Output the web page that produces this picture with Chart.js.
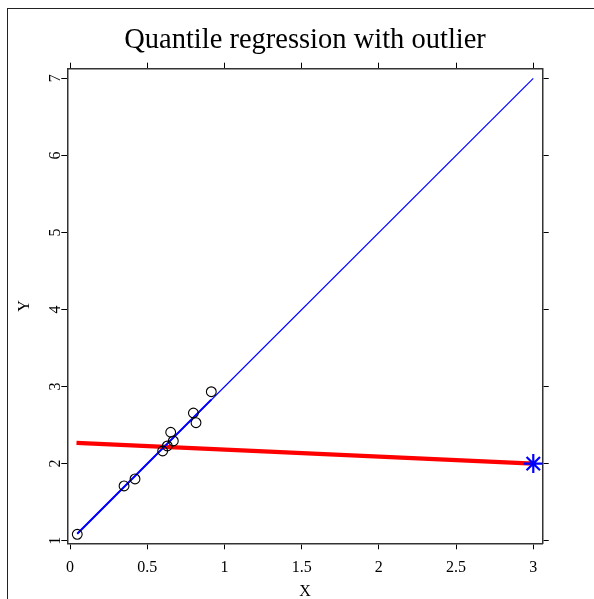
<!DOCTYPE html>
<html>
<head>
<meta charset="UTF-8">
<title>Quantile regression with outlier</title>
<script src="https://cdn.jsdelivr.net/npm/chart.js"></script>
<style>
  html, body { margin: 0; padding: 0; background: #fff; overflow: hidden; }
  #frame {
    position: absolute; left: 7px; top: 8px;
    width: 700px; height: 700px;
    border: 1.5px solid #222;
  }
  #wrap { position: absolute; left: 0; top: 0; width: 594px; height: 599px; }
</style>
</head>
<body>
<div id="frame"></div>
<div id="wrap"><canvas id="chart"></canvas></div>
<script>
// tick values and labels
const xTicks = [0, 0.5, 1, 1.5, 2, 2.5, 3];
const xTickLabels = ['0', '0.5', '1', '1.5', '2', '2.5', '3'];
const yTicks = [1, 2, 3, 4, 5, 6, 7];
const yTickLabels = ['1', '2', '3', '4', '5', '6', '7'];

// observations (circles)
const obsX = [0.047, 0.350, 0.421, 0.600, 0.630, 0.652, 0.669, 0.799, 0.816, 0.915];
const obsY = [1.083, 1.710, 1.801, 2.164, 2.229, 2.407, 2.294, 2.657, 2.531, 2.933];

// outlier (asterisk)
const outX = [3];
const outY = [2.0];

// blue fit without outlier: over data range (thick) and extended (thin)
const fitShortX = [0.047, 0.915];
const fitShortY = [1.09, 2.83];
const fitLongX = [0.047, 3];
const fitLongY = [1.09, 7.0];

// red quantile fit with outlier
const qrX = [0.042, 3];
const qrY = [2.27, 2.0];

const pts = (xs, ys) => xs.map((x, i) => ({ x: x, y: ys[i] }));

const serif = "'Liberation Serif', 'Times New Roman', serif";

const gridOpts = {
  drawOnChartArea: false,
  drawTicks: true,
  tickLength: 6,
  color: '#000',
  lineWidth: 1
};
const borderOpts = { display: true, color: '#333', width: 1.5 };

const setTicks = vals => scale => { scale.ticks = vals.map(v => ({ value: v })); };
const labelFrom = (vals, labels) => v => {
  const i = vals.indexOf(v);
  return i >= 0 ? labels[i] : '';
};

new Chart(document.getElementById('chart'), {
  type: 'scatter',
  data: {
    datasets: [
      {
        data: pts(outX, outY),
        pointStyle: 'star',
        pointRadius: 9.5,
        borderColor: '#0000ff',
        borderWidth: 2.2,
        showLine: false
      },
      {
        data: pts(obsX, obsY),
        pointStyle: 'circle',
        pointRadius: 4.9,
        borderColor: '#000',
        backgroundColor: 'rgba(0,0,0,0)',
        borderWidth: 1.1,
        showLine: false
      },
      {
        data: pts(fitShortX, fitShortY),
        showLine: true,
        borderColor: '#0000ff',
        borderWidth: 2,
        pointRadius: 0
      },
      {
        data: pts(fitLongX, fitLongY),
        showLine: true,
        borderColor: '#0000ff',
        borderWidth: 1.2,
        pointRadius: 0
      },
      {
        data: pts(qrX, qrY),
        showLine: true,
        borderColor: '#ff0000',
        borderWidth: 4.3,
        pointRadius: 0
      }
    ]
  },
  options: {
    responsive: true,
    maintainAspectRatio: false,
    animation: false,
    events: [],
    layout: { padding: { left: 16, right: 0, top: 0, bottom: 0 } },
    plugins: {
      legend: { display: false },
      tooltip: { enabled: false },
      title: {
        display: true,
        text: 'Quantile regression with outlier',
        color: '#000',
        font: { family: serif, size: 28.5, weight: 'normal', lineHeight: 1.2 },
        padding: { top: 23.3, bottom: 4.9 }
      }
    },
    scales: {
      x: {
        type: 'linear',
        position: 'bottom',
        min: -0.0175,
        max: 3.061,
        afterBuildTicks: setTicks(xTicks),
        afterFit: s => { s.height = 55.7; },
        grid: gridOpts,
        border: borderOpts,
        ticks: {
          color: '#000',
          font: { family: serif, size: 16 },
          padding: 9.3,
          maxRotation: 0,
          autoSkip: false,
          callback: labelFrom(xTicks, xTickLabels)
        },
        title: {
          display: true,
          text: 'X',
          color: '#000',
          font: { family: serif, size: 16, lineHeight: 0.9 },
          padding: 0
        }
      },
      x2: {
        type: 'linear',
        axis: 'x',
        position: 'top',
        min: -0.0175,
        max: 3.061,
        afterBuildTicks: setTicks(xTicks),
        afterFit: s => { s.height = 6.3; },
        grid: gridOpts,
        border: borderOpts,
        ticks: { display: false }
      },
      y: {
        type: 'linear',
        position: 'left',
        min: 0.966,
        max: 7.125,
        afterBuildTicks: setTicks(yTicks),
        afterFit: s => { s.width = 51.3; },
        grid: gridOpts,
        border: borderOpts,
        ticks: {
          color: '#000',
          font: { family: serif, size: 16 },
          padding: 1.2,
          minRotation: 90,
          maxRotation: 90,
          crossAlign: 'center',
          autoSkip: false,
          callback: labelFrom(yTicks, yTickLabels)
        },
        title: {
          display: true,
          text: 'Y',
          color: '#000',
          font: { family: serif, size: 16, lineHeight: 1.125 },
          padding: 0
        }
      },
      y2: {
        type: 'linear',
        axis: 'y',
        position: 'right',
        min: 0.966,
        max: 7.125,
        afterBuildTicks: setTicks(yTicks),
        afterFit: s => { s.width = 51.3; },
        grid: gridOpts,
        border: borderOpts,
        ticks: { display: false }
      }
    }
  }
});
</script>
</body>
</html>
